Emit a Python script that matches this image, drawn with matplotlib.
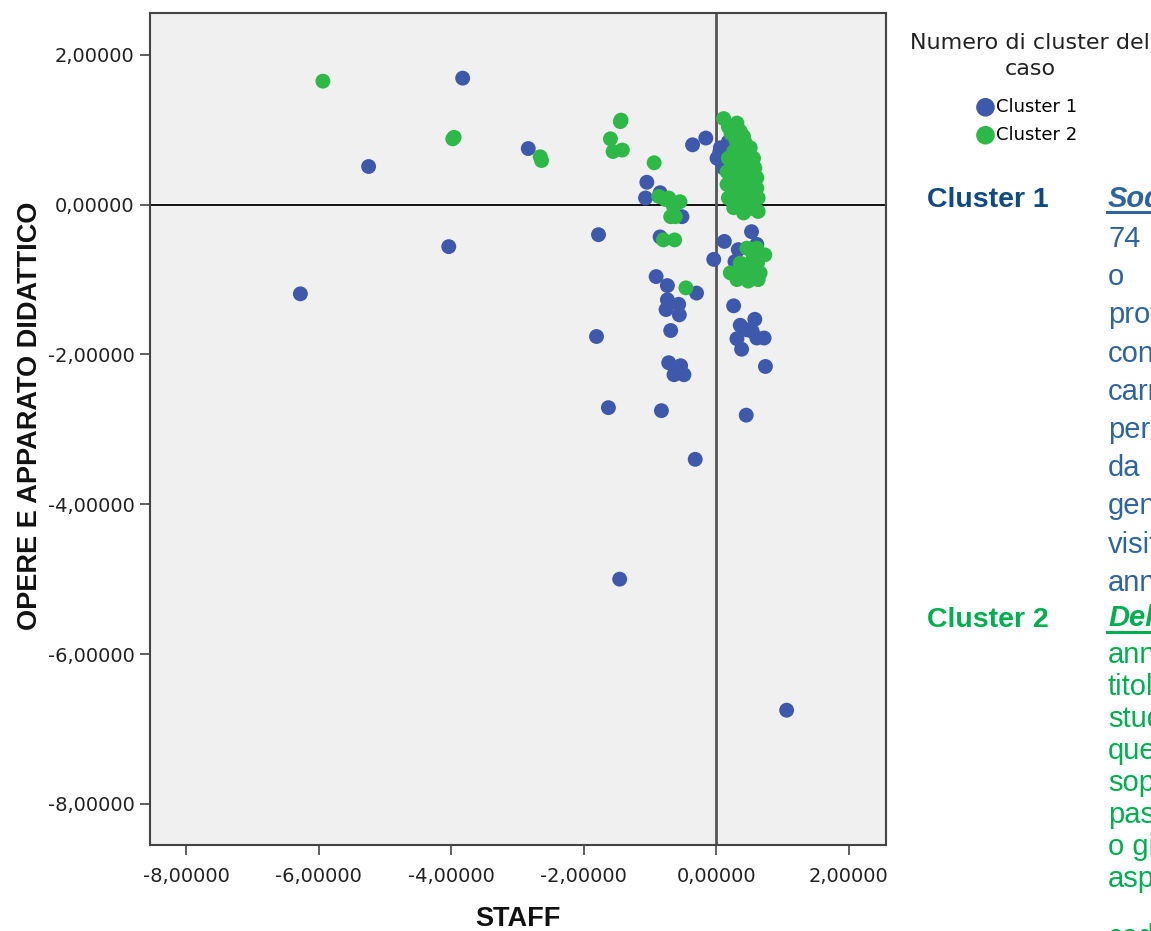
import matplotlib
matplotlib.use('Agg')
import matplotlib.pyplot as plt
from matplotlib.ticker import FuncFormatter, FixedLocator
from matplotlib.lines import Line2D

# cluster 1 (blue) - STAFF vs OPERE E APPARATO DIDATTICO
c1_x = [-3.83, -5.25, -2.84, -4.04, -6.28, -1.78, -1.81, -1.63, -0.83, -0.32,
        -1.46, 0.45, 1.06, -1.05, -1.07, -0.85, -0.36, -0.16, -0.52, -0.85,
        -0.91, -0.74, -0.30, -0.74, -0.57, -0.76, -0.56, -0.69, -0.72, -0.54,
        -0.64, -0.49, -0.04, 0.12, 0.53, 0.33, 0.28, 0.61, 0.26, 0.36,
        0.58, 0.54, 0.72, 0.31, 0.38, 0.61, 0.74, 0.46,
        0.06, 0.01, 0.11, 0.18, 0.05, 0.15, 0.12]
c1_y = [1.69, 0.51, 0.75, -0.56, -1.19, -0.40, -1.76, -2.71, -2.75, -3.40,
        -5.00, -2.81, -6.75, 0.30, 0.09, 0.16, 0.80, 0.89, -0.16, -0.43,
        -0.96, -1.08, -1.18, -1.27, -1.33, -1.40, -1.47, -1.68, -2.11, -2.15,
        -2.27, -2.27, -0.73, -0.49, -0.36, -0.60, -0.76, -0.53, -1.35, -1.61,
        -1.53, -1.69, -1.78, -1.79, -1.93, -1.78, -2.16, -1.67,
        0.76, 0.62, 0.49, 0.84, 0.70, 0.55, 0.65]

# cluster 2 (green)
c2_x = [-5.94, -3.98, -3.96, -2.66, -2.64, -1.45, -1.44, -1.60, -1.42, -1.56,
        -0.94, -0.87, -0.72, -0.55, -0.65, -0.62, -0.69, -0.77, -0.80, -0.63,
        -0.46,
        0.46, 0.61, 0.73, 0.36, 0.51, 0.62, 0.21, 0.36, 0.51, 0.66,
        0.31, 0.48, 0.63, 0.55, 0.42,
        0.11, 0.31, 0.18, 0.41, 0.51, 0.56, 0.58, 0.61, 0.61, 0.63,
        0.63, 0.41, 0.26, 0.18, 0.16, 0.16, 0.18, 0.26,
        0.30, 0.35, 0.40, 0.30, 0.45, 0.25, 0.40, 0.50, 0.30, 0.45,
        0.52, 0.35, 0.45, 0.52, 0.28, 0.38, 0.48, 0.22, 0.36, 0.44]
c2_y = [1.65, 0.88, 0.90, 0.64, 0.59, 1.11, 1.13, 0.88, 0.73, 0.71,
        0.56, 0.11, 0.09, 0.04, -0.02, -0.16, -0.16, 0.07, -0.47, -0.47,
        -1.11,
        -0.58, -0.58, -0.67, -0.78, -0.78, -0.78, -0.91, -0.91, -0.91, -0.91,
        -1.00, -1.02, -1.00, -0.65, -0.85,
        1.15, 1.09, 1.04, 0.91, 0.76, 0.62, 0.49, 0.36, 0.22, 0.09,
        -0.09, -0.11, -0.04, 0.09, 0.27, 0.44, 0.62, 0.71,
        0.85, 0.75, 0.65, 0.55, 0.55, 0.40, 0.40, 0.40, 0.25, 0.25,
        0.15, 0.10, 0.02, -0.05, 0.15, 0.32, 0.70, 0.95, 0.98, 0.82]

ticks = [-8, -6, -4, -2, 0, 2]

c1_title = 'Soddisfatti'
c1_lines = ['74', 'o', 'professionisti', 'con', 'carriera', 'persone', 'da',
            'generale', 'visitatori', 'anni']
c2_title = 'Delusi'
c2_lines = ['anni', 'titolo', 'studio', 'questi', 'soprattutto', 'passato',
            'o giovani', 'aspetti', 'codice']

W, H = 1151, 931
fx = lambda px: px / W
fy = lambda py: 1 - py / H

fig = plt.figure(figsize=(W / 100, H / 100), dpi=100)
ax = fig.add_axes([fx(150), fy(845), 736 / W, 832 / H])
ax.set_facecolor('#F0F0F0')
ax.axhline(0, color='black', lw=1.3, zorder=1)
ax.axvline(0, color='#555555', lw=2.0, zorder=1)
ax.scatter(c1_x, c1_y, s=115, c='#3E58AC', edgecolors='none', label='Cluster 1', zorder=3)
ax.scatter(c2_x, c2_y, s=115, c='#2EB848', edgecolors='none', label='Cluster 2', zorder=4)
ax.set_xlim(-8.55, 2.56)
ax.set_ylim(-8.55, 2.56)

fmt = FuncFormatter(lambda v, p: ('%.5f' % v).replace('.', ','))
for axis in (ax.xaxis, ax.yaxis):
    axis.set_major_locator(FixedLocator(ticks))
    axis.set_major_formatter(fmt)
ax.tick_params(length=7, width=1.2, color='#444444', labelsize=14,
               labelcolor='#222222')
ax.tick_params(axis='x', pad=9)
ax.tick_params(axis='y', pad=4)
for sp in ax.spines.values():
    sp.set_color('#444444')
    sp.set_linewidth(1.5)

ax.set_xlabel('STAFF', fontsize=19.5, fontweight='bold', family='Liberation Sans',
              va='baseline', color='#111111')
ax.xaxis.set_label_coords(0.5, (845 - 926) / 832)
ax.set_ylabel('OPERE E APPARATO DIDATTICO', fontsize=19.5, fontweight='bold',
              family='Liberation Sans', va='baseline', color='#111111')
ax.yaxis.set_label_coords((37.5 - 150) / 736, (845 - 416) / 832)

# legend
fig.text(fx(1030), fy(33), 'Numero di cluster del\ncaso', ha='center', va='top',
         fontsize=16, color='#222222', linespacing=1.4)
ax.legend(loc='upper center', bbox_to_anchor=(fx(1027), fy(89)),
          bbox_transform=fig.transFigure, frameon=False, fontsize=13,
          markerscale=1.25, handletextpad=0.1, handlelength=1.0,
          labelspacing=0.55, borderpad=0)

# description text on the right
blue_lbl = '#104A85'
blue_txt = '#2E64A0'
green = '#00B050'
fig.text(fx(927), fy(207), 'Cluster 1', fontsize=20.5, fontweight='bold',
         family='Liberation Sans', color=blue_lbl, va='baseline')
fig.text(fx(927), fy(627), 'Cluster 2', fontsize=20.5, fontweight='bold',
         family='Liberation Sans', color=green, va='baseline')

fig.text(fx(1108), fy(207), c1_title, fontsize=21, fontweight='bold', style='italic',
         family='Liberation Sans', color=blue_txt, va='baseline')
fig.add_artist(Line2D([fx(1107), fx(1151)], [fy(212), fy(212)], transform=fig.transFigure,
                      color=blue_txt, lw=2.2))
for i, s in enumerate(c1_lines):
    fig.text(fx(1108), fy(247 + 38.2 * i), s, fontsize=21, family='Liberation Sans',
             color=blue_txt, va='baseline')

fig.text(fx(1108), fy(626), c2_title, fontsize=21, fontweight='bold', style='italic',
         family='Liberation Sans', color=green, va='baseline')
fig.add_artist(Line2D([fx(1107), fx(1151)], [fy(632), fy(632)], transform=fig.transFigure,
                      color=green, lw=2.2))
for i, s in enumerate(c2_lines):
    yy = 663 + 32 * i if i < 8 else 945
    fig.text(fx(1108), fy(yy), s, fontsize=21, family='Liberation Sans',
             color=green, va='baseline')

fig.savefig('out.png', dpi=100)
